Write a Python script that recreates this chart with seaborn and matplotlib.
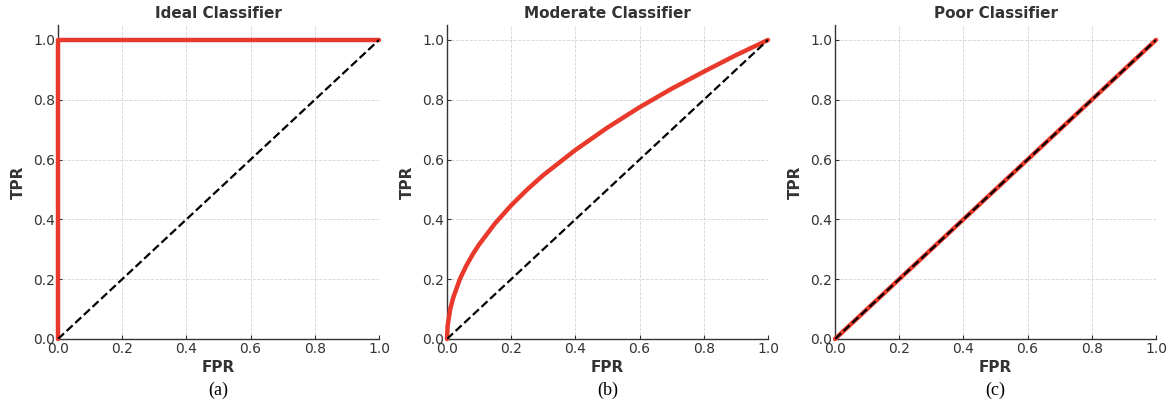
import matplotlib
matplotlib.use("Agg")
import matplotlib.pyplot as plt
import seaborn as sns
import pandas as pd

# ROC curves
ideal_fpr = [0.0, 0.0, 1.0]
ideal_tpr = [0.0, 1.0, 1.0]

moderate_fpr = [0.0, 0.002, 0.01, 0.02, 0.04, 0.06, 0.08, 0.1, 0.15, 0.2,
                0.25, 0.3, 0.4, 0.5, 0.6, 0.7, 0.8, 0.9, 1.0]
moderate_tpr = [0.0, 0.045, 0.10, 0.14, 0.20, 0.245, 0.283, 0.316, 0.387, 0.447,
                0.50, 0.548, 0.632, 0.707, 0.775, 0.837, 0.894, 0.949, 1.0]

poor_fpr = [0.0, 1.0]
poor_tpr = [0.0, 1.0]

chance_fpr = [0.0, 1.0]
chance_tpr = [0.0, 1.0]

titles = ["Ideal Classifier", "Moderate Classifier", "Poor Classifier"]
captions = ["(a)", "(b)", "(c)"]

RED = "#e8392a"
TEXT = "#333333"

sns.set_style("ticks")
plt.rcParams.update({
    "font.family": ["DejaVu Sans"],
    "axes.edgecolor": TEXT,
    "xtick.color": TEXT,
    "ytick.color": TEXT,
    "xtick.direction": "in",
    "ytick.direction": "in",
})

fig = plt.figure(figsize=(11.71, 4.01), dpi=100)
lefts = [58 / 1171, 447 / 1171, 835 / 1171]
width = 321 / 1171
bottom = (401 - 339) / 401
height = (339 - 25) / 401

curves = [(ideal_fpr, ideal_tpr), (moderate_fpr, moderate_tpr), (poor_fpr, poor_tpr)]

for i, (fpr, tpr) in enumerate(curves):
    ax = fig.add_axes([lefts[i], bottom, width, height])
    df = pd.DataFrame({"FPR": fpr, "TPR": tpr})
    sns.lineplot(data=df, x="FPR", y="TPR", ax=ax, sort=False, estimator=None,
                 color=RED, linewidth=3.2, clip_on=False, zorder=3)
    chance = pd.DataFrame({"FPR": chance_fpr, "TPR": chance_tpr})
    sns.lineplot(data=chance, x="FPR", y="TPR", ax=ax, sort=False, estimator=None,
                 color="black", linewidth=1.6, linestyle="--", zorder=4)

    ax.set_xlim(0, 1)
    ax.set_ylim(0, 1.05)
    ax.set_xticks([0, 0.2, 0.4, 0.6, 0.8, 1.0])
    ax.set_yticks([0, 0.2, 0.4, 0.6, 0.8, 1.0])
    ax.tick_params(labelsize=10, length=3, width=0.8, pad=2)
    ax.grid(True, linestyle="--", color="#d4d4d4", linewidth=0.6)
    ax.set_axisbelow(True)
    sns.despine(ax=ax)
    for s in ["left", "bottom"]:
        ax.spines[s].set_linewidth(1.0)

    ax.set_title(titles[i], fontsize=11, fontweight="bold", color=TEXT, pad=5)
    ax.set_xlabel("FPR", fontsize=11, fontweight="bold", color=TEXT, labelpad=3)
    ax.set_ylabel("TPR", fontsize=11, fontweight="bold", color=TEXT, labelpad=5)
    ax.text(0.5, -0.162, captions[i], transform=ax.transAxes, ha="center", va="center",
            fontsize=13, family=["Liberation Serif"], color="black")

fig.savefig("out.png", dpi=100)
